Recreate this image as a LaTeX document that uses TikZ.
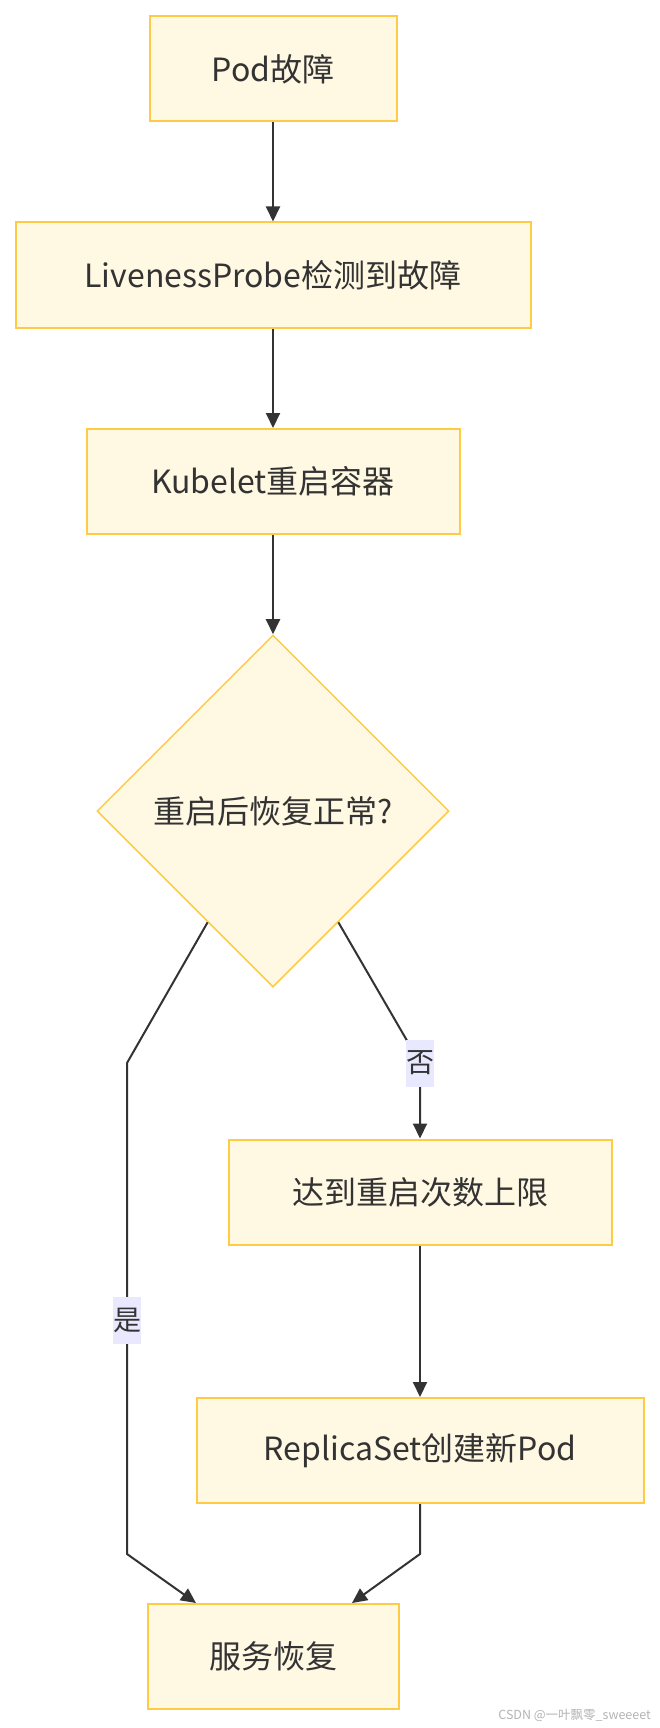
\documentclass[tikz,border=0pt]{standalone}
\usepackage{fontspec}
\setmainfont{Noto Sans CJK SC}
\usetikzlibrary{shapes.geometric,arrows.meta,calc}
\definecolor{boxfill}{HTML}{FFF8E3}
\definecolor{boxdraw}{HTML}{FFCB45}
\definecolor{ink}{HTML}{333333}
\definecolor{lblfill}{HTML}{E8E8FF}
\definecolor{wm}{HTML}{B4B4B4}
\begin{document}
\begin{tikzpicture}[x=1pt,y=-1pt,
  proc/.style={draw=boxdraw, fill=boxfill, line width=2pt, minimum height=105pt, inner sep=0pt, font=\fontsize{32}{37}\selectfont, text=ink},
  dec/.style={diamond, draw=boxdraw, fill=boxfill, line width=1.5pt, minimum width=352pt, minimum height=352pt, inner sep=0pt, font=\fontsize{32}{37}\selectfont, text=ink},
  arr/.style={draw=ink, line width=2pt, -{Triangle[length=15pt,width=14pt]}},
  lbl/.style={fill=lblfill, inner sep=0pt, minimum width=28pt, minimum height=47pt, font=\fontsize{28}{31}\selectfont, text=ink}]
\useasboundingbox (0,0) rectangle (660,1728);
\fill[white] (0,0) rectangle (660,1728);

\node[proc, minimum width=247pt] (pod) at (273,69) {Pod故障};
\node[proc, minimum width=515pt] (live) at (273,275) {LivenessProbe检测到故障};
\node[proc, minimum width=373pt] (kube) at (273,481.5) {Kubelet重启容器};
\node[dec] (dia) at (273,811) {重启后恢复正常?};
\node[proc, minimum width=383pt] (need) at (420,1192) {达到重启次数上限};
\node[proc, minimum width=447pt] (rep) at (420,1450.5) {ReplicaSet创建新Pod};
\node[proc, minimum width=251pt] (serv) at (273,1656.5) {服务恢复};

\draw[arr] (pod) -- (live);
\draw[arr] (live) -- (kube);
\draw[arr] (kube) -- (dia);

\coordinate (L0) at ($(dia.west)!0.63!(dia.south)$);
\coordinate (L1) at (127,1063);
\coordinate (L2) at (127,1554);
\draw[arr] (L0) -- (L1) -- (L2) -- ($(serv.north)+(-77,0)$);
\node[lbl] (yes) at (127,1320) {是};

\coordinate (R0) at ($(dia.east)!0.63!(dia.south)$);
\coordinate (R1) at (420,1063);
\draw[arr] (R0) -- (R1) -- (need);
\node[lbl] (no) at (R1) {否};

\draw[arr] (need) -- (rep);
\coordinate (R2) at (420,1554);
\draw[arr] (rep) -- (R2) -- ($(serv.north)+(79,0)$);

\node[anchor=base east, text=wm, font=\fontsize{12.5}{14}\selectfont, inner sep=0pt] (mark) at (651,1719) {CSDN @一叶飘零\_sweeeet};
\end{tikzpicture}
\end{document}
